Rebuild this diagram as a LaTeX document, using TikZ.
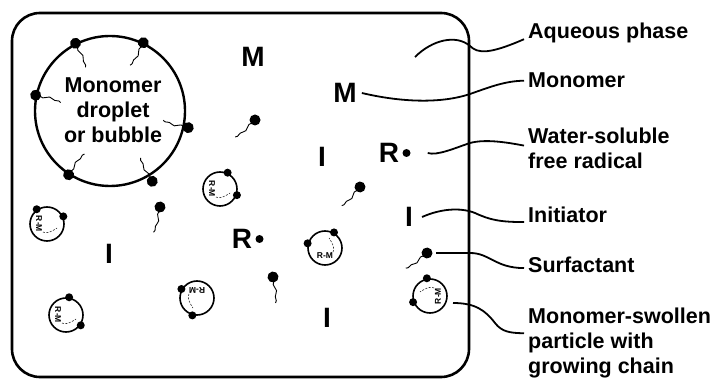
\documentclass[tikz,border=0pt]{standalone}
\usepackage{fontspec}
\setmainfont{Liberation Sans}
\usepackage{tikz}
\usetikzlibrary{positioning}

\tikzset{
  lbl/.style={font=\bfseries\fontsize{21.5}{25}\selectfont, align=left, anchor=north west, inner sep=0pt},
  sym/.style={font=\bfseries\fontsize{28}{28}\selectfont, inner sep=0pt},
  rdot/.style={circle, fill, inner sep=0pt, minimum size=8pt},
  lead/.style={line width=1.8pt},
  tail/.style={line width=0.9pt},
  chaintxt/.style={font=\bfseries\fontsize{8.5}{8.5}\selectfont, inner sep=0pt},
  pics/surf/.style={code={
    \fill (0,0) circle (5.5);
    \draw[tail] (0,-4) .. controls (-4,-9) and (4,-13) .. (0,-17) .. controls (-3,-21) and (1,-23) .. (-2,-26);
  }},
  pics/particle/.style args={#1/#2/#3}{code={
    \draw[line width=1.6pt] (0,0) circle (17);
    \fill (#1:18) circle (4);
    \fill (#2:18) circle (4);
    \begin{scope}[rotate=#3]
      \node[chaintxt, transform shape] at (0,-8) {R-M};
      \draw[line width=0.5pt, dash pattern=on 2pt off 1.5pt] (8,-4) .. controls (10,0) and (8,4) .. (4,10);
    \end{scope}
  }},
}

\begin{document}
\begin{tikzpicture}[x=1pt,y=1pt]
  \useasboundingbox (0,0) rectangle (717,380);

  % reactor outline
  \draw[line width=2.6pt, rounded corners=28pt] (12,3) rectangle (469,367);

  % monomer droplet with adsorbed surfactant
  \node[circle, draw, line width=2.4pt, minimum size=150pt, inner sep=0pt] (drop) at (110,269) {};
  \node[font=\bfseries\fontsize{21.5}{25}\selectfont, align=center, inner sep=0pt] (droptxt) at (113,270) {Monomer\\droplet\\or bubble};
  \foreach \a/\r in {117/76,64/76,168/76,-12/80,-123/76,-59/82}
    \pic[rotate=\a-90] at ([shift={(\a:\r)}]drop.center) {surf};

  % species in the water
  \node[sym] (m1) at (253,323) {M};
  \node[sym] (m2) at (345,287) {M};
  \node[sym] (i1) at (322,223) {I};
  \node[sym] (r1) at (389,227) {R};
  \node[rdot, right=3pt of r1] (r1dot) {};
  \node[sym] (i2) at (409,163) {I};
  \node[sym] (r2) at (242,141) {R};
  \node[rdot, right=3pt of r2] (r2dot) {};
  \node[sym] (i3) at (109,126) {I};
  \node[sym] (i4) at (327,62) {I};

  % free surfactant
  \pic[rotate=-45] at (255,260) {surf};
  \pic[rotate=-40] at (360,193) {surf};
  \pic[rotate=-10] at (160,173) {surf};
  \pic[rotate=10] at (273,103) {surf};
  \coordinate (sfhead) at (427,127);
  \pic[rotate=-50] at (sfhead) {surf};

  % swollen particles
  \coordinate (p1) at (220,191);
  \coordinate (p2) at (325,132);
  \coordinate (p3) at (47,156);
  \coordinate (p4) at (66,65);
  \coordinate (p5) at (197,82);
  \coordinate (p6) at (430,84);
  \pic at (p1) {particle={65/-20/-90}};
  \pic at (p2) {particle={60/165/0}};
  \pic at (p3) {particle={125/25/-90}};
  \pic at (p4) {particle={80/-35/-90}};
  \pic at (p5) {particle={150/-105/180}};
  \pic at (p6) {particle={100/200/90}};

  % legend
  \node[lbl] (aqlbl) at (528,357) {Aqueous phase};
  \node[lbl] (monolbl) at (528,307) {Monomer};
  \node[lbl] (wslbl) at (528,252) {Water-soluble\\free radical};
  \node[lbl] (initlbl) at (528,173) {Initiator};
  \node[lbl] (surflbl) at (528,123) {Surfactant};
  \node[lbl] (partlbl) at (528,72) {Monomer-swollen\\particle with\\growing chain};

  \coordinate (aqsrc) at (415,323);
  \draw[lead] (aqsrc) .. controls (432,340) and (456,346) .. (470,334)
    .. controls (478,326) and (490,326) .. ([shift={(-4,-6)}]aqlbl.west);
  \draw[lead] ([xshift=5pt]m2.east) .. controls (400,278) and (440,276) .. (470,286)
    .. controls (490,293) and (505,299) .. ([xshift=-4pt]monolbl.west);
  \draw[lead] ([xshift=17pt]r1dot.east) .. controls (437,224) and (455,232) .. (470,237)
    .. controls (485,241) and (505,238) .. ([shift={(-4,3)}]wslbl.west);
  \draw[lead] ([xshift=9pt]i2.east) .. controls (440,171) and (460,173) .. (475,167)
    .. controls (490,160) and (500,158) .. ([shift={(-4,-7)}]initlbl.west);
  \draw[lead] ([xshift=9pt]sfhead) -- (470,127)
    .. controls (490,127) and (495,112) .. ([shift={(-4,-3)}]surflbl.west);
  \draw[lead] ([shift={(23,-7)}]p6) .. controls (475,77) and (485,70) .. (495,57)
    .. controls (502,48) and (510,47) .. ([shift={(-4,10)}]partlbl.west);
\end{tikzpicture}
\end{document}
